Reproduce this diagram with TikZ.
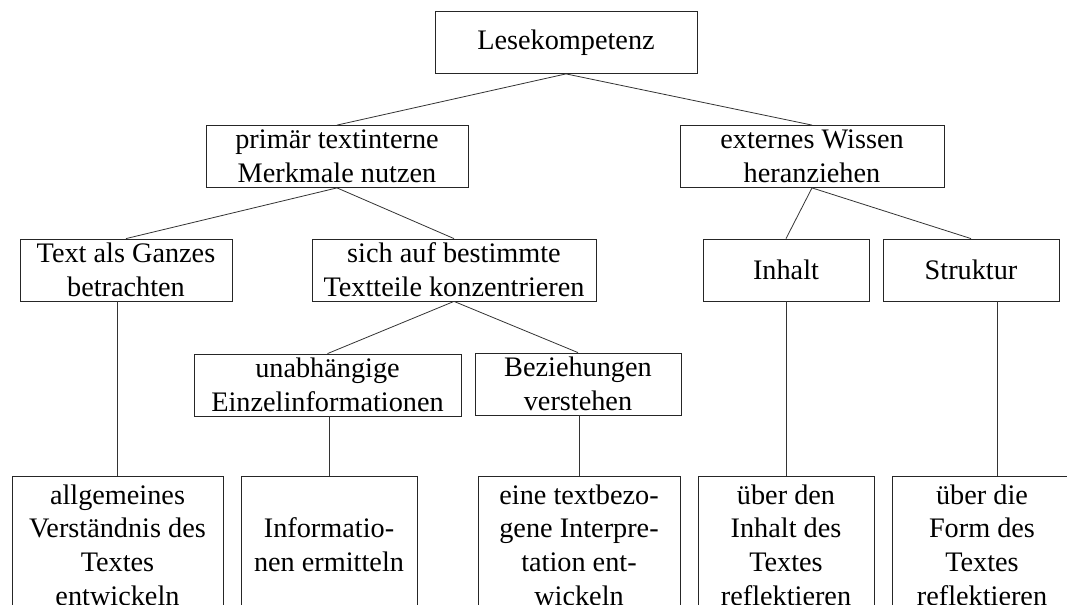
\documentclass[tikz,border=0pt]{standalone}
\usepackage{fontspec}
\setmainfont{Liberation Serif}
\usetikzlibrary{calc}

\tikzset{
  box/.style={draw=black!85, inner sep=0pt, align=center, minimum height=46.5pt,
    font=\fontsize{21.2}{25.3}\selectfont},
  tallbox/.style={box, minimum height=103.5pt},
  link/.style={draw=black!80},
}

\begin{document}
\begin{tikzpicture}[x=0.75pt, y=-0.75pt, line width=0.6pt]
  \useasboundingbox (0,0) rectangle (1067,605);
  \clip (0,0) rectangle (1067,605);

  % top levels
  \node[box, minimum width=196.5pt] (lese) at (566,42.5) {Lesekompetenz};
  \node[box, minimum width=196.5pt] (textint) at (337,156.5) {primär textinterne\\Merkmale nutzen};
  \node[box, minimum width=198pt] (extern) at (812,156.5) {externes Wissen\\heranziehen};

  \node[box, minimum width=159pt] (ganzes) at (126,270) {Text als Ganzes\\betrachten};
  \node[box, minimum width=213pt] (teile) at (454,270) {sich auf bestimmte\\Textteile konzentrieren};
  \node[box, minimum width=124.5pt] (inhalt) at (786,270) {Inhalt};
  \node[box, minimum width=132pt] (struktur) at (971,270) {Struktur};

  \node[box, minimum width=200.25pt] (einzel) at (327.5,385) {unabhängige\\Einzelinformationen};
  \node[box, minimum width=154.5pt] (bezieh) at (578,384) {Beziehungen\\verstehen};

  % bottom row, cut off by the page
  \node[tallbox, minimum width=158.25pt] (verst) at (117.5,545) {allgemeines\\Verständnis des\\Textes\\entwickeln};
  \node[tallbox, minimum width=132pt] (ermitt) at (329,545) {Informatio-\\nen ermitteln};
  \node[tallbox, minimum width=151.5pt] (interp) at (579,545) {eine textbezo-\\gene Interpre-\\tation ent-\\wickeln};
  \node[tallbox, minimum width=132pt] (reflinh) at (786,545) {über den\\Inhalt des\\Textes\\reflektieren};
  \node[tallbox, minimum width=135pt] (reflform) at (982,545) {über die\\Form des\\Textes\\reflektieren};

  \draw[link] (lese.south) -- (textint.north);
  \draw[link] (lese.south) -- (extern.north);
  \draw[link] (textint.south) -- (ganzes.north);
  \draw[link] (textint.south) -- (teile.north);
  \draw[link] (extern.south) -- (inhalt.north);
  \draw[link] (extern.south) -- (struktur.north);
  \draw[link] (teile.south) -- (einzel.north);
  \draw[link] (teile.south) -- (bezieh.north);

  \draw[link] (verst.north) -- (verst.north |- ganzes.south);
  \draw[link] (ermitt.north) -- (ermitt.north |- einzel.south);
  \draw[link] (interp.north) -- (interp.north |- bezieh.south);
  \draw[link] (reflinh.north) -- (reflinh.north |- inhalt.south);
  \coordinate (formtop) at ($(reflform.north)+(15,0)$);
  \draw[link] (formtop) -- (formtop |- struktur.south);
\end{tikzpicture}
\end{document}
